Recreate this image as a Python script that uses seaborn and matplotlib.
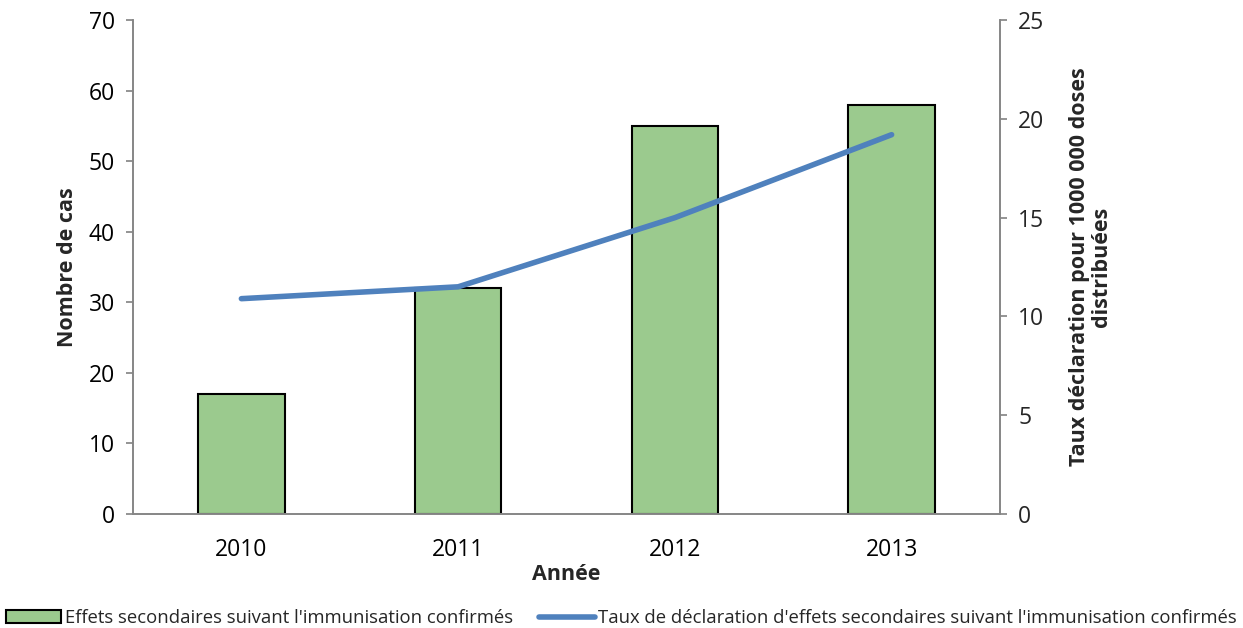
import matplotlib
matplotlib.use("Agg")
import matplotlib.pyplot as plt
import pandas as pd
import seaborn as sns
from matplotlib.patches import Patch
from matplotlib.lines import Line2D

# Data
annees = ["2010", "2011", "2012", "2013"]
nombre_cas = [17, 32, 55, 58]
taux_declaration = [10.9, 11.5, 15.0, 19.2]

bar_label = "Effets secondaires suivant l'immunisation confirmés"
line_label = "Taux de déclaration d'effets secondaires suivant l'immunisation confirmés"

sns.set_theme(style="white")
plt.rcParams['font.family'] = ['Open Sans', 'DejaVu Sans']

df = pd.DataFrame({"Année": annees, "Nombre de cas": nombre_cas, "Taux": taux_declaration})

fig = plt.figure(figsize=(12.43, 6.28), dpi=100)
ax = fig.add_axes([0.107, 0.1815, 0.6975, 0.7865])

sns.barplot(data=df, x="Année", y="Nombre de cas", color="#9BCA8E", width=0.4,
            edgecolor="black", linewidth=1.5, saturation=1, ax=ax)
ax.set_xlim(-0.5, 3.5)
ax.set_ylim(0, 70)
ax.set_yticks(range(0, 71, 10))
ax.set_xlabel("Année", fontsize=15.5, fontweight="bold", labelpad=2)
ax.set_ylabel("Nombre de cas", fontsize=15.5, fontweight="bold", labelpad=8)
ax.tick_params(axis="both", labelsize=16.5, colors="#000000")

# Excel-style ticks between categories
ax.set_xticks([0, 1, 2, 3])
ax.set_xticks([-0.5, 0.5, 1.5, 2.5, 3.5], minor=True)
ax.tick_params(axis="x", which="major", length=0, pad=17)
ax.tick_params(axis="x", which="minor", length=5, color="#868686", direction="out")
ax.tick_params(axis="y", length=5, color="#868686", direction="out", left=True, pad=8)

ax2 = ax.twinx()
ax2.plot(range(len(annees)), taux_declaration, color="#4F81BD", linewidth=4,
         solid_capstyle="round", solid_joinstyle="round")
ax2.set_ylim(0, 25)
ax2.set_yticks(range(0, 26, 5))
ax2.tick_params(axis="y", labelsize=16.5, length=5, color="#868686", direction="out", right=True, pad=8)
ax2.set_ylabel("Taux déclaration pour 1000 000 doses\ndistribuées", fontsize=15.5,
               fontweight="bold", labelpad=18, linespacing=1.05)

for a in (ax, ax2):
    a.spines["top"].set_visible(False)
    for side in ("left", "right", "bottom"):
        a.spines[side].set_color("#868686")
        a.spines[side].set_linewidth(1.2)

handles = [Patch(facecolor="#9BCA8E", edgecolor="black", linewidth=1.5, label=bar_label),
           Line2D([0], [0], color="#4F81BD", linewidth=4, label=line_label)]
fig.legend(handles=handles, loc="lower center", ncol=2, frameon=False, fontsize=13.3,
           bbox_to_anchor=(0.5, -0.025), handlelength=3.0, handletextpad=0.2, columnspacing=1.4)

fig.savefig("out.png", dpi=100)
